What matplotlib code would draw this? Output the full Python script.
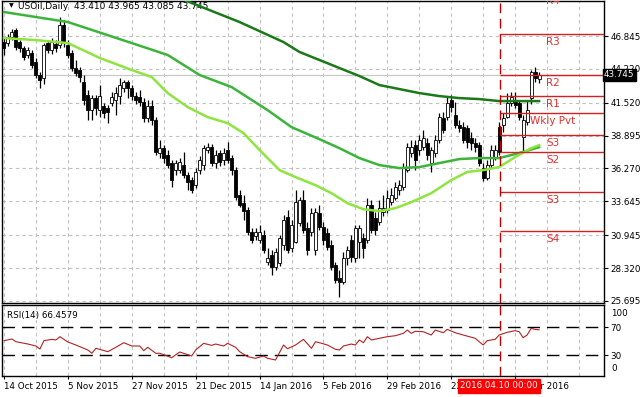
import matplotlib
matplotlib.use('Agg')
import matplotlib.pyplot as plt
from matplotlib import transforms

# bar data (one bar per trading day, 14 Oct 2015 .. 21 Apr 2016)
opens = [46.36, 46.28, 46.76, 47.32, 46.36, 45.89, 45.33, 45.49, 44.77, 43.73,
         43.49, 46.28, 45.73, 46.20, 46.13, 47.72, 46.13, 45.49, 44.29, 44.13,
         43.17, 42.13, 40.93, 41.89, 40.93, 41.25, 41.09, 41.49, 41.73, 42.05,
         42.69, 43.17, 42.69, 42.05, 41.97, 41.57, 40.29, 41.25, 40.13, 37.49,
         37.89, 37.34, 36.70, 36.14, 36.14, 36.54, 35.74, 35.34, 34.94, 36.14,
         36.54, 37.74, 37.97, 36.70, 37.50, 36.94, 37.74, 37.10, 36.14, 34.14,
         33.50, 32.94, 31.18, 30.86, 30.54, 30.94, 28.79, 29.34, 28.39, 28.71,
         30.14, 32.38, 29.90, 30.42, 31.90, 33.74, 31.50, 31.18, 29.74, 32.70,
         31.58, 31.10, 30.14, 28.55, 27.51, 27.19, 29.11, 30.54, 29.11, 30.38,
         30.70, 30.54, 33.34, 32.30, 31.98, 32.78, 32.94, 33.58, 33.90, 34.54,
         34.78, 36.14, 37.49, 38.13, 37.74, 37.97, 38.29, 36.70, 37.49, 38.53,
         40.29, 40.37, 41.73, 40.53, 39.73, 39.57, 39.49, 38.69, 38.29, 38.13,
         36.30, 35.50, 36.54, 37.18, 39.57, 39.74, 40.37, 41.49, 41.73, 41.49,
         38.77, 39.97, 41.89, 43.97, 43.41]
highs = [46.68, 47.00, 47.40, 47.48, 46.52, 46.04, 45.96, 45.73, 45.09, 43.97,
         46.28, 46.52, 46.68, 46.52, 48.36, 48.12, 46.52, 45.73, 44.93, 44.37,
         43.73, 42.53, 42.13, 42.13, 42.93, 41.49, 41.33, 42.37, 42.77, 43.49,
         43.33, 43.33, 42.93, 42.37, 42.53, 41.89, 41.73, 41.73, 40.37, 38.53,
         38.13, 37.74, 36.94, 36.94, 37.10, 37.58, 35.98, 35.58, 36.30, 37.26,
         38.13, 38.29, 38.21, 37.74, 37.74, 37.89, 38.37, 37.34, 36.38, 34.54,
         34.14, 33.18, 31.50, 31.50, 31.74, 31.34, 29.90, 29.74, 29.90, 30.94,
         32.54, 32.94, 32.14, 34.54, 33.98, 34.54, 32.00, 33.10, 33.10, 33.34,
         32.00, 31.50, 30.54, 28.79, 28.15, 29.58, 30.06, 30.94, 31.74, 31.74,
         31.10, 33.90, 33.74, 32.78, 33.74, 34.14, 34.54, 34.70, 35.18, 35.34,
         36.70, 38.29, 38.53, 38.53, 38.93, 39.33, 38.69, 37.97, 38.93, 40.69,
         40.77, 41.97, 42.13, 41.57, 40.13, 39.97, 39.73, 39.17, 38.69, 38.37,
         36.70, 36.94, 38.13, 38.13, 39.97, 40.69, 42.29, 42.37, 42.37, 41.73,
         40.53, 41.73, 44.13, 44.37, 43.965]
lows = [45.33, 46.04, 46.52, 45.73, 45.57, 44.93, 45.09, 44.29, 43.49, 42.69,
        43.01, 45.49, 45.41, 45.57, 45.89, 45.96, 45.09, 44.05, 43.65, 43.17,
        41.33, 40.13, 40.13, 40.53, 40.37, 40.29, 39.89, 41.25, 40.53, 41.41,
        42.37, 41.89, 41.73, 41.41, 41.25, 39.97, 39.97, 39.73, 37.34, 37.10,
        36.70, 36.30, 34.78, 35.74, 35.90, 35.50, 34.54, 34.30, 34.70, 35.82,
        36.14, 37.49, 36.46, 36.30, 36.46, 36.54, 36.70, 35.74, 33.74, 33.18,
        32.14, 30.94, 30.30, 30.54, 30.30, 29.50, 28.55, 27.75, 28.15, 28.47,
        29.74, 29.50, 29.58, 30.30, 31.66, 31.10, 29.34, 30.86, 29.34, 31.34,
        30.14, 29.74, 28.15, 27.11, 25.99, 27.03, 28.55, 28.79, 28.79, 29.11,
        29.11, 30.30, 31.10, 30.94, 31.74, 32.46, 32.70, 33.34, 33.74, 34.14,
        34.54, 35.98, 37.18, 36.14, 37.34, 37.74, 36.94, 35.98, 37.18, 38.29,
        39.09, 40.13, 40.77, 39.49, 39.17, 38.29, 37.89, 37.74, 37.58, 36.46,
        35.26, 35.34, 36.30, 36.94, 37.34, 39.17, 40.29, 41.25, 41.09, 40.13,
        37.58, 39.73, 41.41, 43.17, 43.085]
closes = [45.89, 46.76, 47.16, 45.96, 45.89, 45.17, 45.73, 44.53, 43.73, 43.33,
          46.13, 45.73, 46.36, 45.89, 47.72, 46.28, 45.33, 44.29, 43.89, 43.57,
          41.73, 40.93, 41.89, 41.09, 42.05, 40.69, 40.77, 41.97, 42.29, 42.93,
          43.17, 42.69, 42.05, 41.73, 41.57, 40.29, 41.25, 40.13, 37.58, 37.89,
          37.10, 36.54, 35.34, 36.70, 36.78, 35.74, 35.18, 34.54, 35.98, 36.94,
          37.89, 37.97, 36.70, 37.34, 36.78, 37.50, 36.94, 36.14, 33.98, 33.34,
          32.86, 31.18, 30.54, 31.18, 31.18, 29.74, 29.11, 28.39, 29.59, 30.70,
          32.14, 29.74, 31.74, 33.58, 33.74, 31.34, 29.74, 32.70, 32.78, 31.58,
          30.54, 29.98, 28.39, 27.35, 27.19, 29.11, 29.74, 29.19, 31.50, 31.50,
          29.90, 33.34, 31.34, 31.34, 33.10, 33.10, 33.90, 34.14, 34.78, 34.94,
          36.38, 37.97, 37.97, 36.94, 38.53, 38.69, 37.34, 37.74, 38.53, 40.37,
          39.33, 41.49, 41.17, 39.73, 39.49, 38.53, 38.37, 38.29, 37.97, 36.70,
          35.50, 36.54, 37.74, 37.74, 37.58, 40.29, 41.49, 41.97, 41.33, 40.37,
          40.13, 40.93, 43.97, 43.49, 43.745]

# moving averages, read at sample bars
ma_fast_idx = [0, 8, 16, 24, 32, 37, 41, 46, 51, 56, 60, 64, 69, 73, 78, 82, 86, 90,
               94, 98, 102, 107, 112, 116, 120, 124, 128, 132, 134]
ma_fast = [46.68, 46.52, 46.28, 45.09, 44.13, 43.57, 42.29, 41.17, 40.37, 39.89, 39.09,
           37.74, 36.14, 35.58, 34.94, 34.30, 33.50, 33.02, 32.86, 33.10, 33.58, 34.30,
           35.34, 35.99, 36.14, 36.38, 37.18, 37.89, 38.13]
ma_mid_idx = [0, 16, 32, 41, 49, 57, 66, 72, 79, 84, 89, 94, 99, 104, 109, 114, 119,
              124, 129, 134]
ma_mid = [48.76, 47.96, 46.28, 45.33, 43.73, 42.77, 40.93, 39.57, 38.61, 37.89, 37.10,
          36.54, 36.30, 36.38, 36.70, 37.02, 37.10, 37.10, 37.50, 37.97]
ma_slow_idx = [36, 47, 59, 70, 74, 79, 84, 89, 94, 99, 104, 109, 114, 119, 124, 129, 134]
ma_slow = [50.92, 49.48, 47.96, 46.36, 45.57, 44.93, 44.29, 43.65, 42.93, 42.61, 42.29,
           42.05, 41.89, 41.81, 41.65, 41.65, 41.65]

# RSI(14), read at sample bars
rsi_idx = [0, 2, 3, 6, 8, 9, 10, 12, 13, 14, 16, 18, 21, 22, 23, 26, 28, 30, 32, 34,
           35, 36, 38, 39, 42, 44, 47, 48, 50, 52, 53, 55, 56, 58, 59, 61, 63, 65, 66, 68,
           70, 71, 73, 75, 77, 78, 79, 81, 83, 84, 85, 87, 88, 89, 90, 91, 92, 94, 96, 98,
           100, 101, 102, 103, 105, 107, 108, 110, 111, 113, 115, 118, 119, 120, 121, 123,
           124, 126, 128, 129, 130, 131, 132, 133, 134]
rsi_val = [50.9, 53.3, 49.4, 46.1, 43.3, 39.0, 50.9, 52.8, 51.9, 56.6, 49.0, 44.7, 37.6,
           32.9, 40.0, 35.2, 41.4, 48.0, 43.3, 43.3, 36.6, 41.4, 32.9, 32.9, 26.6, 34.7,
           29.0, 37.6, 47.1, 44.2, 46.1, 43.3, 47.1, 41.4, 35.2, 28.0, 25.7, 29.0, 25.7,
           23.3, 44.7, 39.4, 44.7, 52.8, 40.0, 49.4, 48.0, 44.7, 38.6, 37.6, 43.3, 46.1,
           44.7, 51.9, 48.0, 56.6, 51.9, 54.3, 56.6, 58.0, 61.4, 66.1, 61.4, 64.3, 63.7,
           59.0, 66.1, 62.3, 67.1, 62.3, 59.0, 54.3, 49.4, 44.7, 50.9, 52.8, 59.0, 62.8,
           65.2, 63.7, 55.2, 59.0, 68.5, 67.0, 66.46]

# weekly pivot levels
pivot_names = ['R4', 'R3', 'R2', 'R1', 'Wkly Pvt', 'S3', 'S2', 'S3', 'S4']
pivot_vals = [50.28, 46.98, 43.75, 42.07, 40.67, 38.93, 37.55, 34.36, 31.29]
pivot_start = 124.25  # 2016.04.10 00:00

price_ticks = [46.845, 44.220, 41.520, 38.895, 36.270, 33.645, 30.945, 28.320, 25.695]
date_idx = [0, 16, 32, 48, 64, 80, 96, 112, 128]
date_labels = ['14 Oct 2015', '5 Nov 2015', '27 Nov 2015', '21 Dec 2015', '14 Jan 2016',
               '5 Feb 2016', '29 Feb 2016', '22 Mar 2016', '13 Apr 2016']
last_price = 43.745

plt.rcParams['font.family'] = 'DejaVu Sans'
W, H = 643, 397
fig = plt.figure(figsize=(W / 100, H / 100), dpi=100)
ax = fig.add_axes([2 / W, 94 / H, 602 / W, 302 / H])
ax2 = fig.add_axes([2 / W, 21 / H, 602 / W, 71 / H])

xlim = (-0.5, 150.25)
grid_kw = dict(color='#c0c0c0', lw=0.8, ls=(0, (3, 3)))

# --- price panel
ax.set_xlim(*xlim)
ax.set_ylim(25.53, 49.64)
for p in price_ticks:
    ax.axhline(p, zorder=0, **grid_kw)
for i in range(0, 151, 8):
    ax.axvline(i, zorder=0, **grid_kw)
ax.axhline(last_price, color='#c8c8c8', lw=0.9, zorder=0.5)

n = len(closes)
idx = list(range(n))
ax.vlines(idx, lows, highs, color='black', lw=0.9, zorder=2)
for i in idx:
    o, c = opens[i], closes[i]
    up = c >= o
    h = max(abs(c - o), 0.04)
    ax.bar(i, h, bottom=min(o, c), width=0.75,
           color='white' if up else 'black', edgecolor='black', lw=0.6, zorder=3)

ax.plot(ma_slow_idx, ma_slow, color='#1a7a1a', lw=1.8, zorder=4)
ax.plot(ma_mid_idx, ma_mid, color='#3cb43c', lw=1.8, zorder=4)
ax.plot(ma_fast_idx, ma_fast, color='#8ee53f', lw=1.8, zorder=4)

pv_color = '#d42020'
ax.hlines(pivot_vals, pivot_start, xlim[1], color=pv_color, lw=1, zorder=5)
off = transforms.offset_copy(ax.transData, fig=fig, x=0, y=-2, units='points')
for name, v in zip(pivot_names, pivot_vals):
    t = ax.text(137.5, v, name, transform=off, ha='center', va='top',
                color='#e03030', fontsize=7.5, zorder=5)
    t.set_clip_on(True)

ax.axvline(pivot_start, color='#c00000', lw=1, ls=(0, (7, 4)), zorder=5)

ax.yaxis.tick_right()
ax.set_yticks(price_ticks)
ax.set_yticklabels(['%.3f' % p for p in price_ticks])
ax.set_xticks([])
ax.tick_params(axis='y', direction='out', length=3, width=0.8, labelsize=6.3, pad=1.5)
for s in ax.spines.values():
    s.set_linewidth(1)
ax.text(1.0, last_price, '%.3f' % last_price,
        transform=transforms.blended_transform_factory(ax.transAxes, ax.transData),
        ha='left', va='center', color='white', fontsize=6.3, zorder=10, clip_on=False,
        bbox=dict(boxstyle='square,pad=0.15', fc='black', ec='black'))
ax.text(0.012, 0.983, '\u25bc', transform=ax.transAxes, fontsize=4.5, va='center')
ax.text(0.027, 0.983, 'USOil,Daily  43.410 43.965 43.085 43.745', transform=ax.transAxes,
        fontsize=6.5, va='center')

# --- RSI panel
ax2.set_xlim(*xlim)
ax2.set_ylim(0.4, 101.9)
for i in range(0, 151, 8):
    ax2.axvline(i, zorder=0, **grid_kw)
for lvl in (70, 30):
    ax2.axhline(lvl, color='black', lw=1, ls=(0, (9, 5)), zorder=1)
ax2.plot(rsi_idx, rsi_val, color='#b22222', lw=0.8, zorder=3)
ax2.axvline(pivot_start, color='#c00000', lw=1, ls=(0, (7, 4)), zorder=4)
ax2.yaxis.tick_right()
ax2.set_yticks([70, 30])
ax2.tick_params(axis='y', direction='out', length=3, width=0.8, labelsize=6.3, pad=1.5)
rt = transforms.blended_transform_factory(ax2.transAxes, ax2.transData)
ax2.text(1.012, 90, '100', transform=rt, fontsize=6.3, va='center', clip_on=False)
ax2.text(1.012, 10.5, '0', transform=rt, fontsize=6.3, va='center', clip_on=False)
ax2.text(0.008, 87, 'RSI(14) 66.4579', fontsize=6.3, va='center',
         transform=transforms.blended_transform_factory(ax2.transAxes, ax2.transData))
ax2.set_xticks(date_idx)
ax2.set_xticklabels(date_labels, ha='left')
ax2.tick_params(axis='x', direction='out', length=2.5, labelsize=6.3, pad=1.5)
for s in ax2.spines.values():
    s.set_linewidth(1)

fig.text(499 / W, 1 - 386 / H, '2016.04.10 00:00', color='white', fontsize=6.3,
         ha='center', va='center', zorder=20,
         bbox=dict(boxstyle='square,pad=0.25', fc='#ff0000', ec='#ff0000'))

fig.savefig('out.png', dpi=100)
